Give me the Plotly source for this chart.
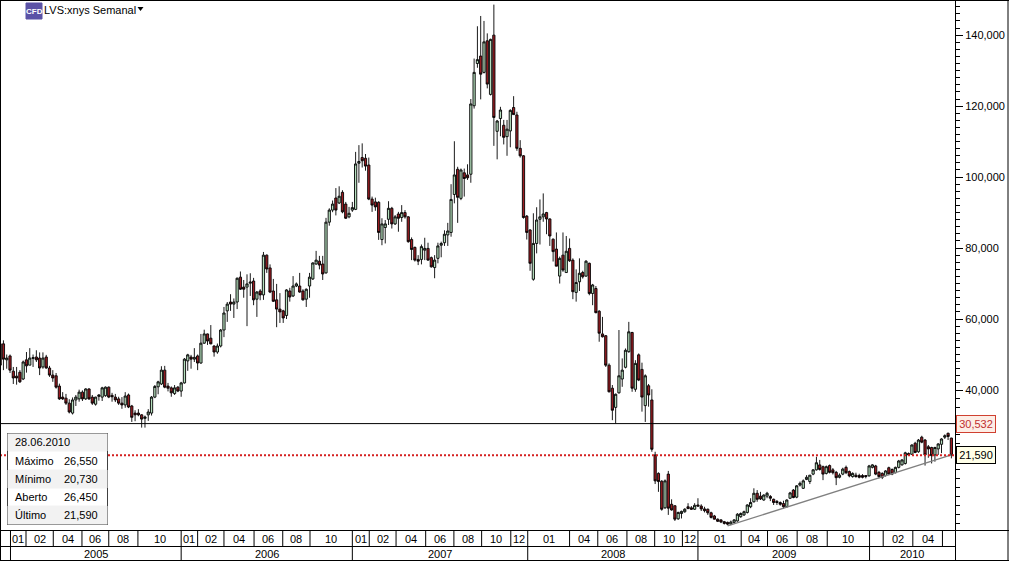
import pandas as pd
import plotly.graph_objects as go

LAST_WEEK = "2010-06-28"
opens = [53,53,48.5,49.6,45.3,43.9,45,43.1,48.5,47,
48.9,49.3,49,46.5,49.3,46.2,44.2,44,41.1,38,
37.7,36.3,33.5,37.2,37.5,39.4,37.5,40.3,38,36,
38.2,38,38.4,40.8,38.5,38,37.5,36.3,35.8,38.6,
35.5,33.5,33.5,33,32,33,33.5,38,40.9,41.7,
45.6,41.1,40.6,39,40.8,39.7,42,48.2,49.3,48.7,
49.6,47.6,53.2,55.8,54.6,52.4,50.7,52.4,56.9,62.3,
64.8,64.2,64.8,71.8,69,69,70.1,70.7,65.6,67.9,
66.8,78,74.4,67.9,65.4,62.8,62.3,61,67.9,66.5,
69.3,69.3,67.9,65.6,69.3,71.3,75.5,76.3,75.5,73,
87.3,90.7,94.1,92.7,95.7,92.4,88.8,90.7,90.9,103.9,
105.5,105.3,103.4,93.8,93,92.9,82.4,85.8,88.1,91.2,
86.8,89.6,88.6,90,88.8,82.4,80.2,76.8,76.8,79.4,
79.9,77.3,74.5,77.1,80.8,81.5,83.7,84.4,95.1,102.2,
94,101.2,100.6,100.8,120.1,132,134.1,129.5,138.4,123.3,
140,112.9,116.5,114.6,111.4,113,119.6,117.5,108.1,106,
89,85.1,71.2,81.3,88.1,88.8,90,88.2,82.5,79.7,
72.1,78,73.1,79.9,76.6,67.5,70.5,73.1,72.1,75.7,
67.2,68.6,62.2,55.8,55.3,47,40.5,35.1,39.2,43.1,
46.4,50.8,56.2,40.2,49.9,45.8,35.6,41.2,37.2,21.7,
16.5,14.3,6.8,16.3,7.8,7.4,3.7,5.2,5.7,7.1,
6.8,6.4,7.6,7.3,6.5,6.4,5.4,4.5,3.6,3.4,
2.9,2.7,2.2,2.7,3.1,4.3,4.8,5.5,7.1,8.5,
10.9,10.1,9,10.1,10,9.2,8.6,8.3,8,7.1,
9.5,11.8,9.8,13.2,12.3,14.8,14.2,16.3,17.5,18.9,
18.4,16.5,18.7,17.5,16.8,15.4,16.3,18.2,17,15.6,
16,15.9,15.9,15.9,15.8,18.2,18.6,16.8,16.5,15.9,
18.1,17.6,16.7,18.2,18.9,19.3,22.1,21.9,25,22.6,
26.7,25.9,24,23.8,21.7,23.4,24.7,26.7,27.8,26.45]
highs = [54,54,50,50,46.5,46.5,45.6,48.3,50.7,51.8,
50,51.2,50.6,50.6,49.9,46.8,45.6,44.8,41.8,39.4,
38.9,37.4,37.9,38.6,40.1,39.9,40.5,40.5,38.6,38.1,
38.8,40.9,41,41,39.2,38.9,38.1,38,39.4,39,
35.8,34.3,34.6,33.2,32.8,34.6,38.3,41.4,42.6,46.7,
46.8,42,41,41.4,41.1,42.3,49,50.2,49.9,51.8,
50,55.8,57,55.9,58.3,52.6,53.1,57.2,63.4,64.8,
67,65.8,71.7,73.4,71,72.6,72.9,71.6,67.9,68.4,
78.9,78.2,75.4,71.3,69.9,67.3,62.6,68.4,68.8,72.1,
70.3,73,68.4,68.6,73,76,79.2,77.8,77.8,88.5,
91.2,93.4,96.9,97.4,96.3,93,91.6,93,107.1,109,
109.5,106.5,105.5,94.5,94.2,93.2,88.4,87.9,93.2,91.6,
89.3,90.2,92.1,90.7,89,83,80.4,78,81,82.9,
81.5,77.6,78,81.5,81.8,85,87.1,98,110.1,102.9,
102.4,102.4,103.6,122,133.4,142.5,145.4,144,140.5,139,
148.6,116.1,119.8,116.1,116.1,119.1,122.8,118.4,110.4,106.2,
89.3,85.3,89.8,91.5,93.7,95.4,90.2,88.4,82.7,84.4,
77.6,84.4,83.4,82.7,77.1,74,77.1,73.6,76.6,75.9,
69.9,69.3,62.5,60.6,55.5,47.5,41.4,39,56.9,48.9,
51.7,59.2,56.4,48.4,50.3,47.7,44.4,41.7,40.2,22.6,
16.8,14.6,14.8,17.2,9.2,7.4,5.7,6,6.7,8.1,
7.3,8.1,9.5,7.8,7.1,6.6,5.7,4.8,3.8,3.6,
3.1,2.9,3.2,3.6,5.3,5.5,6,7.8,9.5,12.3,
11.8,11.3,10.6,11.3,10.4,9.4,9,8.6,8.8,9.2,
11.3,12.1,13.2,14.2,14.8,16,16,17.7,21.2,20.3,
18.7,18.7,19,18,17.2,16.5,18.1,18.7,17.3,16.8,
16.7,16.4,16.3,16,18.9,19.1,18.9,17.2,16.8,17.4,
18.4,17.9,18.4,20.3,20.5,22.6,22.4,24.7,25.4,26.2,
27.1,26.2,24.5,24,24,25,26.4,27.5,28,26.55]
lows = [42.8,45.6,46,44.8,41.7,41.5,42,42.8,44.9,47,
46.5,47.9,44.2,46,46,43.7,42.3,40.4,37.2,37.2,
35.8,33.4,33.1,35.5,36.7,36.9,37.2,37.2,35.8,35.6,
37,36.9,38.1,37.7,36.7,36.6,35.8,34.7,35,34.9,
31,31.2,32.6,29.4,29.4,31.3,32.8,37.7,38.8,41.4,
40.5,39.6,38.1,38.6,39.4,38.1,41.8,45.4,46,47.9,
45.6,47.4,53,52.7,52.9,49.4,50.2,52,54.9,59.2,
62.3,60.3,62.8,68.2,66,58,66.5,63.9,60.6,65.3,
65.4,73,67.3,64.8,57.7,58.9,58.9,60,64.9,66.2,
69,67.4,65.2,63.4,66,71,75.3,74,71,72.8,
86.3,90.1,89.2,92.4,89.8,88.2,88.4,90.2,90.7,98.4,
102.7,101.8,93.5,90.2,90.5,82.3,80.8,81.3,86.5,85.5,
86.5,84.6,87.4,88.3,81.5,76.6,76.2,75.2,75.4,76.6,
76.4,74.5,71.5,75.7,77.4,80.6,80.6,83.2,92.6,87.1,
93.5,94.5,99.2,98.4,119.3,130.8,121.9,129.2,125,123,
108.8,105,111.5,109.2,106,108.4,117.5,107.4,105.5,88.3,
82.4,73.6,70.8,78.5,81,87.4,83.9,80.6,76.2,75,
70,73.3,73,76.1,65.6,64.9,67.9,71.4,71.9,66.7,
63.9,61.6,53.6,54.8,46.5,39.3,31.5,30.6,39,40.9,
46.1,50.5,39.5,39.5,42.5,33.9,31,35.3,22.6,13.5,
11.3,6,6.5,4.8,6,3.1,3.4,3.8,5.4,6.4,
6.2,6.2,7.1,5.9,5.5,4.8,3.8,3.5,2.8,2.5,
2.1,1.9,1.9,2.4,2.9,4,4.5,5.2,6.7,8.3,
8.5,9,8.8,9.5,8.7,7.6,7.6,7.4,6.5,6.9,
9.3,9.5,9.5,12.8,12.1,14.6,13.5,16,17.3,17.3,
14.6,16.2,16.5,16.2,13.2,15.1,16,16.3,15.4,15.3,
15.3,15.1,15.1,15.1,15.6,17.9,16,15.1,14.9,15.6,
16,16,16.5,17.9,18.7,19,21.4,21.7,22.2,22.3,
25,18.7,20.9,19.3,19.8,21.7,22.2,26.2,25.9,20.73]
closes = [47,48.7,49,45.6,43.4,43.4,42.3,47.9,46.8,49,
49.1,48.5,46.2,49,46.2,44.2,43.4,40.8,37.5,37.5,
36.3,33.8,37.2,38,39.4,37.5,40.3,37.5,36.3,38,
38.6,40.6,40.8,38,38.1,37.2,36.3,35.8,38.3,35.2,
32.3,33,33,31.8,32.4,33.8,38,41,42.3,45.6,
40.8,40.5,39.2,40.6,39.7,42,48.7,49.9,48.7,49.2,
47.6,53.2,55.8,53.8,53,50.7,52.4,56.9,61.7,64.2,
64.2,64.8,71.5,68.4,68.4,69.9,70.4,65.4,67.6,66.8,
78,74.1,67.6,65,62.8,62,60.3,68.2,66.2,69.3,
69.9,67.6,65.4,68.4,71.8,75.8,76.6,75.2,72.7,87.3,
90.7,92.4,90.7,94.6,90.2,88.4,89.8,91.4,103.7,104.4,
104.6,103.1,93.8,92.1,91.6,84.4,86.8,86.8,91.2,86.8,
88.8,88.4,90,88.8,81.8,79.6,76.6,76.3,80.4,79.9,
76.6,74.7,76.6,80.6,81.3,83.9,84.8,93.7,100.6,94.3,
102,99.6,99.8,120.6,129.5,133.1,129,138.1,126.2,138.8,
116.8,115.8,118.9,111.2,113.5,118.8,117.6,108.1,106,88.6,
84.4,75.7,81.3,87.9,88.8,89.6,88.2,83.4,79,74.9,
77.1,73.8,79.1,76.4,67.7,70.3,72.9,71.9,76.3,67.2,
69.6,61.8,56,55,47,39.5,34.3,38.8,44,45.6,
51.2,56.4,40.5,47.5,42.8,38,44,38.6,23.3,14.4,
14.2,6.4,14.4,6.7,6.2,3.6,5.5,5.8,6.4,6.6,
6.4,7.5,7.3,6.5,6,5.4,4.1,3.6,3,2.8,
2.4,2.2,2.8,3.4,5,5.2,5.7,7.6,8.3,10.9,
9.2,9.3,10.4,10.9,9.5,8.3,8.3,7.8,7.1,9,
11,9.7,13,13.7,14.4,15.4,16,17.5,19.5,17.6,
16.3,18.4,16.8,16.7,15.3,16,17.7,16.7,15.8,16.5,
15.6,15.4,15.4,15.6,18.6,18.9,16.3,15.6,15.4,17.2,
16.3,16.3,18.2,20,20.3,22.3,21.7,24.5,22.4,25.9,
25.3,21.7,23.4,21.5,23.8,24.8,26.2,27.1,26.9,21.59]

y_ticks = [140, 120, 100, 80, 60, 40]
y_labels = ["140,000", "120,000", "100,000", "80,000", "60,000", "40,000"]

month_edges = ["2005-01-04","2005-02-06","2005-04-05","2005-06-05","2005-08-01","2005-10-02",
               "2006-01-02","2006-02-06","2006-04-03","2006-06-06","2006-08-06","2006-10-03",
               "2007-01-01","2007-02-06","2007-04-04","2007-06-06","2007-08-05","2007-10-03","2007-12-04",
               "2008-01-09","2008-04-07","2008-06-06","2008-08-07","2008-10-05","2008-12-03",
               "2009-01-05","2009-04-07","2009-06-02","2009-08-04","2009-10-07",
               "2010-01-05","2010-02-03","2010-04-07","2010-06-09"]
month_labels = ["01","02","04","06","08","10",
                "01","02","04","06","08","10",
                "01","02","04","06","08","10","12",
                "01","04","06","08","10","12",
                "01","04","06","08","10",
                "","02","04",""]
year_edges = ["2005-01-04","2006-01-02","2007-01-01","2008-01-09","2009-01-05","2010-01-05"]
year_labels = ["2005","2006","2007","2008","2009","2010"]

level_line = 30.532
level_text = "30,532"
last_line = 21.59
last_text = "21,590"
trend_dates = ["2009-03-09", "2010-06-28"]
trend_values = [1.7, 21.7]

info_date = "28.06.2010"
info_names = ["Máximo", "Mínimo", "Aberto", "Último"]
info_values = ["26,550", "20,730", "26,450", "21,590"]
title_text = "LVS:xnys Semanal"

W, H = 1009, 561
PW, PH = 955, 530
FONT = "Liberation Sans"
weeks = pd.date_range(end=LAST_WEEK, periods=len(opens), freq="7D")
x_start = weeks[0] - pd.Timedelta(days=0.3)
x_end = weeks[-1] + pd.Timedelta(days=7.7)

def px(x): return x / PW
def py(y): return 1 - y / PH
def mid(a, b):
    a, b = pd.Timestamp(a), pd.Timestamp(b)
    return a + (b - a) / 2

fig = go.Figure()
fig.add_trace(go.Candlestick(
    x=weeks, open=opens, high=highs, low=lows, close=closes,
    increasing=dict(line=dict(color="#000000", width=0.9), fillcolor="#b5dfbd"),
    decreasing=dict(line=dict(color="#000000", width=0.9), fillcolor="#9c1c22"),
    showlegend=False, hoverinfo="skip"))
fig.add_trace(go.Scatter(x=trend_dates, y=trend_values, mode="lines",
                         line=dict(color="#808080", width=1.4),
                         showlegend=False, hoverinfo="skip"))

shapes, notes = [], []
def line(x0, y0, x1, y1, xref="paper", yref="paper", color="#000000", width=1, dash="solid"):
    shapes.append(dict(type="line", x0=x0, y0=y0, x1=x1, y1=y1, xref=xref, yref=yref,
                       layer="above", line=dict(color=color, width=width, dash=dash)))
def rect(x0, y0, x1, y1, fill, border=None):
    shapes.append(dict(type="rect", x0=px(x0), y0=py(y0), x1=px(x1), y1=py(y1),
                       xref="paper", yref="paper", layer="above", fillcolor=fill,
                       line=dict(color=border or fill, width=1)))
def text(x, y, s, xref="paper", anchor="center", color="#000000", size=11, bold=False):
    notes.append(dict(x=x, y=py(y), xref=xref, yref="paper", text=f"<b>{s}</b>" if bold else s,
                      showarrow=False, xanchor=anchor, yanchor="middle",
                      font=dict(family=FONT, size=size, color=color)))

# horizontal levels
line(0, level_line, 1, level_line, yref="y", color="#000000", width=1)
line(0, last_line, 1, last_line, yref="y", color="#d42020", width=2, dash="2px,2px")

# frame
line(px(0.5), py(0), px(0.5), py(560.5))
line(0, py(0.5), px(1009), py(0.5))
line(px(1008), py(0), px(1008), py(561))
line(px(955.5), py(0), px(955.5), py(561))
line(0, py(530.5), px(1009), py(530.5))
line(0, py(546.5), px(955), py(546.5))
line(0, py(560.5), px(1009), py(560.5))

# time axis bands
month_ends = month_edges[1:] + [x_end]
for e, nxt, lab in zip(month_edges, month_ends, month_labels):
    line(e, py(531), e, py(546), xref="x")
    if lab:
        text(mid(e, nxt), 538.5, lab, xref="x")
year_ends = year_edges[1:] + [x_end]
for e, nxt, lab in zip(year_edges, year_ends, year_labels):
    line(e, py(546), e, py(560), xref="x")
    text(mid(e, nxt), 553.5, lab, xref="x")

# title with icon
rect(26, 3, 42, 19, "#5b52a6")
text(px(34), 11.5, "CFD", color="#ffffff", size=8, bold=True)
text(px(41.5), 9.5, title_text, anchor="left")
shapes.append(dict(type="path", xref="paper", yref="paper", layer="above",
                   path=f"M {px(137.5)} {py(7)} L {px(143.5)} {py(7)} L {px(140.5)} {py(11)} Z",
                   fillcolor="#000000", line=dict(width=0)))

# info box
rect(7.5, 433.5, 107.5, 524.5, "#ffffff", "#404040")
rect(8, 434, 107, 451, "#f2f2f2")
rect(8, 470, 107, 488, "#f2f2f2")
rect(8, 506, 107, 524, "#f2f2f2")
text(px(13), 442, info_date, anchor="left")
for k, (nm, val) in enumerate(zip(info_names, info_values)):
    yc = 461 + 18 * k
    text(px(13), yc, nm, anchor="left")
    text(px(99.5), yc, val, anchor="right")

# value tags right of the axis
for val, s, bg, bc, fc in [(level_line, level_text, "#fdeee6", "#d04030", "#c03030"),
                           (last_line, last_text, "#ffffe8", "#000000", "#000000")]:
    notes.append(dict(x=px(956), y=val, xref="paper", yref="y", text=s, showarrow=False,
                      xanchor="left", yanchor="middle", width=38, height=16, align="center",
                      bgcolor=bg, bordercolor=bc, borderwidth=1, borderpad=0,
                      font=dict(family=FONT, size=11, color=fc)))

minor_vals = [v for v in range(42, 150, 2) if v % 20] + [2.5 * k for k in range(1, 16) if k * 2.5 != 40]

fig.update_layout(
    width=W, height=H, autosize=False,
    margin=dict(l=0, r=W - PW, t=0, b=H - PH, pad=0),
    paper_bgcolor="#ffffff", plot_bgcolor="#ffffff",
    showlegend=False, hovermode=False, dragmode=False,
    boxgap=0, boxgroupgap=0.32,
    font=dict(family=FONT, size=11, color="#000000"),
    shapes=shapes, annotations=notes,
    xaxis=dict(type="date", range=[x_start, x_end], rangeslider=dict(visible=False),
               showgrid=False, showticklabels=False, ticks="", zeroline=False, showline=False),
    yaxis=dict(side="right", range=[0.55, 149.9], tickmode="array", tickvals=y_ticks, ticktext=y_labels,
               showgrid=False, zeroline=False, showline=False,
               ticks="outside", ticklen=7, tickcolor="#000000", tickwidth=1,
               tickfont=dict(family=FONT, size=11, color="#000000"),
               minor=dict(tickmode="array", tickvals=minor_vals, ticks="outside", ticklen=4,
                          tickcolor="#000000", tickwidth=1, showgrid=False)),
)

fig.write_html("out.html", config=dict(displayModeBar=False, responsive=False),
               post_script="document.body.style.margin='0';document.body.style.overflow='hidden';")
